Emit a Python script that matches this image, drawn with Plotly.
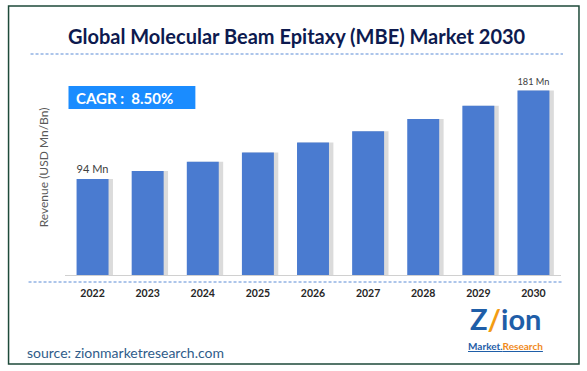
import plotly.graph_objects as go

years = ["2022", "2023", "2024", "2025", "2026", "2027", "2028", "2029", "2030"]
revenue = [94, 102, 111, 120, 130, 141, 153, 166, 181]
label_text = ["94 Mn", "", "", "", "", "", "", "", "181 Mn"]

W, H = 587, 371
L, R, T, B = 64.5, 26, 60, 96
PW = W - L - R
PH = H - T - B

def px(x):
    return (x - L) / PW

def py(y):
    return (H - B - y) / PH

fig = go.Figure()
# shadow
fig.add_trace(go.Bar(x=years, y=revenue, width=0.64, offset=-0.27,
                     marker=dict(color="rgba(90,90,90,0.22)", line=dict(width=0)),
                     hoverinfo="skip", showlegend=False))
fig.add_trace(go.Bar(x=years, y=revenue, width=0.58, offset=-0.29,
                     marker=dict(color="#4a7bd0", line=dict(width=0)),
                     text=label_text, textposition="outside", cliponaxis=False,
                     textfont=dict(family="Lato", size=12, color="#404040"),
                     showlegend=False))

shapes = [
    dict(type="rect", xref="paper", yref="paper", x0=px(8), x1=px(579), y0=py(6), y1=py(364),
         line=dict(color="#1e4a3a", width=1.5), fillcolor="rgba(0,0,0,0)", layer="below"),
    dict(type="line", xref="paper", yref="paper", x0=px(30), x1=px(563), y0=py(54), y1=py(54),
         line=dict(color="#5b8bd6", width=1, dash="3px,2px")),
    dict(type="line", xref="paper", yref="paper", x0=px(28), x1=px(562), y0=py(282), y1=py(282),
         line=dict(color="#5b8bd6", width=1, dash="3px,2px")),
    dict(type="rect", xref="paper", yref="paper", x0=px(68), x1=px(195), y0=py(86), y1=py(109),
         line=dict(width=0), fillcolor="#1a8cff"),
]

annotations = [
    dict(text="<b>Global Molecular Beam Epitaxy (MBE) Market 2030</b>", xref="paper", yref="paper",
         x=px(297), y=py(36), xanchor="center", yanchor="middle", showarrow=False,
         font=dict(family="Lato", size=20, color="#0d1a4f")),
    dict(text="<b>CAGR :  8.50%</b>", xref="paper", yref="paper",
         x=px(74), y=py(97.5), xanchor="left", yanchor="middle", showarrow=False,
         font=dict(family="Lato", size=15, color="white")),
    dict(text="source: zionmarketresearch.com", xref="paper", yref="paper",
         x=px(24), y=py(352), xanchor="left", yanchor="middle", showarrow=False,
         font=dict(family="Lato", size=14, color="#2f5c8a")),
    dict(text="<b>Z<span style='color:#f39c12'>/</span>ion</b>", xref="paper", yref="paper",
         x=px(505), y=py(318), xanchor="center", yanchor="middle", showarrow=False,
         font=dict(family="Lato", size=29, color="#1f5ea8")),
    dict(text="<b><u>Market.<span style='color:#f08a1c'>Research</span></u></b>", xref="paper", yref="paper",
         x=px(505), y=py(346), xanchor="center", yanchor="middle", showarrow=False,
         font=dict(family="Lato", size=10, color="#1f5ea8")),
]

fig.update_layout(
    width=W, height=H,
    margin=dict(l=L, r=R, t=T, b=B),
    paper_bgcolor="white", plot_bgcolor="white",
    barmode="overlay",
    shapes=shapes, annotations=annotations,
    xaxis=dict(type="category", range=[-0.5, 8.5], showgrid=False, showline=True,
               linecolor="#d0d0d0", linewidth=1, ticks="",
               tickfont=dict(family="Lato", size=10.5, color="#262626"),
               tickprefix="<b>", ticksuffix="</b>", ticklabelstandoff=8),
    yaxis=dict(range=[0, PH / 1.02], showgrid=False, showticklabels=False, zeroline=False,
               title=dict(text="Revenue (USD Mn/Bn)", standoff=12,
                          font=dict(family="Lato", size=12, color="#595959"))),
)

fig.write_html("out.html", config={"displayModeBar": False},
               post_script="document.body.style.margin='0';document.body.style.overflow='hidden';")
